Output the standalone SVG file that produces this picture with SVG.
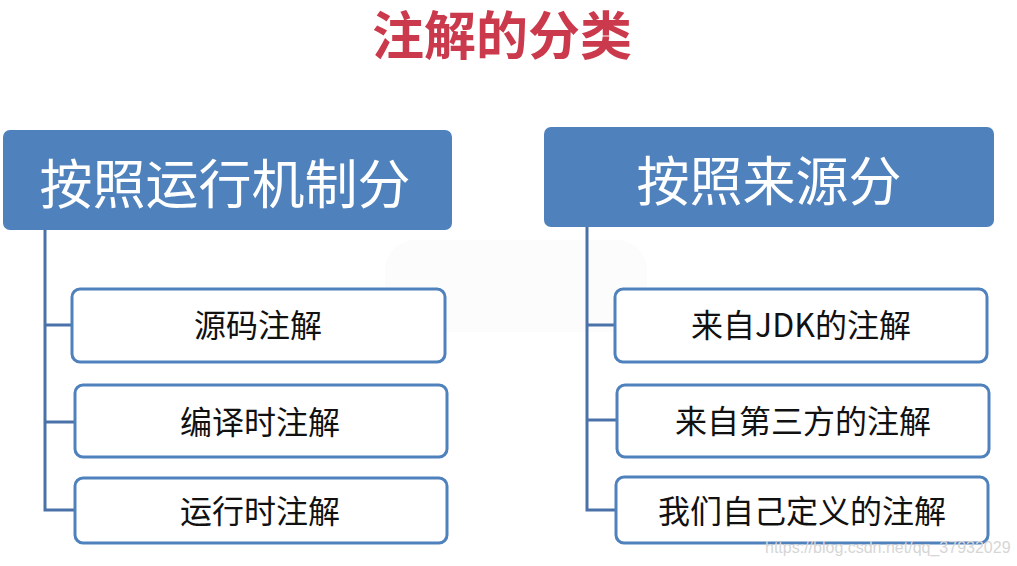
<svg xmlns="http://www.w3.org/2000/svg" width="1017" height="566" viewBox="0 0 1017 566">
<style>
text{font-family:"Noto Sans CJK SC","Noto Sans",sans-serif;text-anchor:middle}
.title{font-size:52px;font-weight:bold;fill:#CB3A4C}
.head rect{fill:#4F81BD}
.head text{font-size:53px;fill:#ffffff}
.child rect{fill:#ffffff;stroke:#4F81BD;stroke-width:3}
.child text{font-size:32px;fill:#111111}
.conn{fill:none;stroke:#4A72A8;stroke-width:3}
.wm{font-family:"Liberation Sans",Arial,sans-serif;font-size:16px;fill:#d6d6d6;text-anchor:start}
</style>
<rect width="1017" height="566" fill="#ffffff"/>
<rect x="385" y="240" width="262" height="92" rx="30" fill="#fdfcfd"/>
<text class="title" x="502" y="55">注解的分类</text>
<g id="connectors">
<polyline class="conn" points="45,229 45,510 74,510"/>
<line class="conn" x1="45" y1="325" x2="72" y2="325"/>
<line class="conn" x1="45" y1="422" x2="75" y2="422"/>
<polyline class="conn" points="587,227 587,510 616,510"/>
<line class="conn" x1="587" y1="325" x2="615" y2="325"/>
<line class="conn" x1="587" y1="420" x2="617" y2="420"/>
</g>
<g id="head-left" class="head">
<rect x="3" y="130" width="449" height="100" rx="7"/>
<text x="225" y="204">按照运行机制分</text>
</g>
<g id="head-right" class="head">
<rect x="544" y="127" width="450" height="100" rx="7"/>
<text x="769" y="201">按照来源分</text>
</g>
<g id="src" class="child">
<rect x="72" y="289" width="373" height="73" rx="8"/>
<text x="258" y="337">源码注解</text>
</g>
<g id="compile" class="child">
<rect x="75" y="385" width="372" height="72" rx="8"/>
<text x="260" y="434">编译时注解</text>
</g>
<g id="runtime" class="child">
<rect x="75" y="478" width="372" height="65" rx="8"/>
<text x="260" y="523">运行时注解</text>
</g>
<g id="jdk" class="child">
<rect x="615" y="289" width="372" height="73" rx="8"/>
<text x="801" y="337">来自JDK的注解</text>
</g>
<g id="third" class="child">
<rect x="617" y="385" width="372" height="72" rx="8"/>
<text x="803" y="433">来自第三方的注解</text>
</g>
<g id="custom" class="child">
<rect x="616" y="477" width="372" height="66" rx="8"/>
<text x="802" y="523">我们自己定义的注解</text>
</g>
<text class="wm" x="765" y="553">https://blog.csdn.net/qq_37932029</text>
</svg>
